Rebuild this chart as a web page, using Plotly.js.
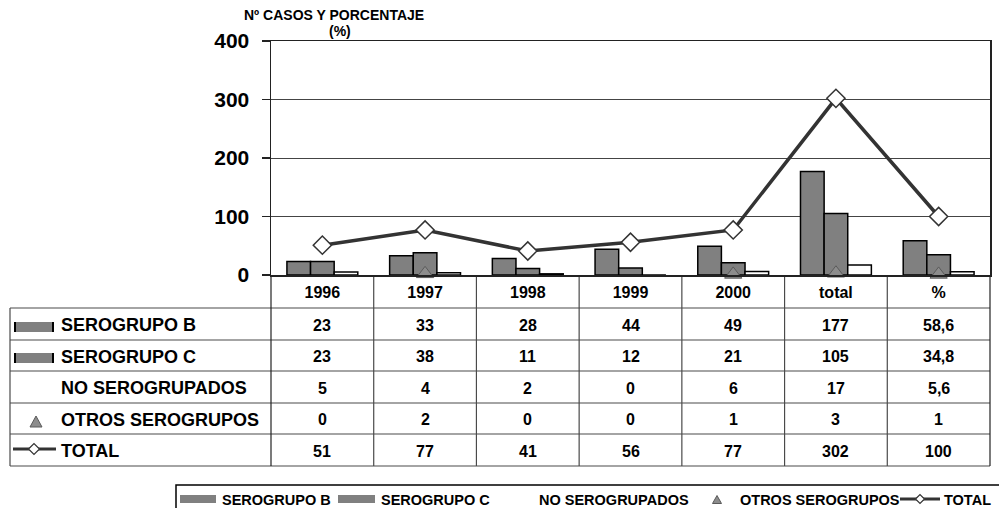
<!DOCTYPE html>
<html>
<head>
<meta charset="utf-8">
<script src="https://cdn.plot.ly/plotly-3.0.1.min.js"></script>
<style>html,body{margin:0;padding:0;background:#fff;}#chart{width:999px;height:508px;}</style>
</head>
<body>
<div id="chart"></div>
<script>
// ---- data ----
const categories = ['1996', '1997', '1998', '1999', '2000', 'total', '%'];
const seriesNames = ['SEROGRUPO B', 'SEROGRUPO C', 'NO SEROGRUPADOS', 'OTROS SEROGRUPOS', 'TOTAL'];
const serogrupoB = [23, 33, 28, 44, 49, 177, 58.6];
const serogrupoC = [23, 38, 11, 12, 21, 105, 34.8];
const noSerogrupados = [5, 4, 2, 0, 6, 17, 5.6];
const otrosSerogrupos = [0, 2, 0, 0, 1, 3, 1];
const totalCasos = [51, 77, 41, 56, 77, 302, 100];
const yTicks = [0, 100, 200, 300, 400];
const yTitleLines = ['Nº CASOS Y PORCENTAJE', '(%)'];

// ---- layout helpers ----
const W = 999, H = 508;
const M = {l: 271, r: 9, t: 41, b: 233};
const PW = W - M.l - M.r, PH = H - M.t - M.b;
const px = x => (x - M.l) / PW;
const py = y => (H - M.b - y) / PH;
const FONT = 'Arial, "Liberation Sans", sans-serif';
const GRAY = '#808080';
const DARK = '#333333';
const TABLE_LINE = '#4a4a4a';

const traces = [
  {type: 'bar', name: seriesNames[0], x: categories, y: serogrupoB,
   marker: {color: GRAY, line: {color: '#000', width: 1.5}}, hoverinfo: 'skip'},
  {type: 'bar', name: seriesNames[1], x: categories, y: serogrupoC,
   marker: {color: GRAY, line: {color: '#000', width: 1.5}}, hoverinfo: 'skip'},
  {type: 'bar', name: seriesNames[2], x: categories, y: noSerogrupados,
   marker: {color: '#fff', line: {color: '#000', width: 1.5}}, hoverinfo: 'skip'},
  {type: 'scatter', mode: 'markers', name: seriesNames[3], x: categories, y: otrosSerogrupos,
   cliponaxis: false,
   marker: {symbol: 'triangle-up', size: 15, color: '#8c8c8c',
            opacity: otrosSerogrupos.map(v => v === 0 ? 0 : 1),
            line: {color: '#5a5a5a', width: 1}}, hoverinfo: 'skip'},
  {type: 'scatter', mode: 'lines+markers', name: seriesNames[4], x: categories, y: totalCasos,
   cliponaxis: false,
   line: {color: DARK, width: 3.5},
   marker: {symbol: 'diamond', size: 14, color: '#fff', line: {color: DARK, width: 1.5}},
   hoverinfo: 'skip'}
];

// ---- table geometry (pixels) ----
const rowEdges = [308, 340, 371, 403, 434, 466];
const tableLeft = 10, tableRight = 990, headerTop = 275;
const shapes = [];
const annotations = [];
const line = (x0, y0, x1, y1, color, w) => shapes.push({type: 'line', xref: 'paper', yref: 'paper',
  x0: px(x0), y0: py(y0), x1: px(x1), y1: py(y1), line: {color: color, width: w}, layer: 'below'});

rowEdges.forEach(y => line(tableLeft, y, tableRight, y, TABLE_LINE, 1.2));
line(tableLeft, rowEdges[0], tableLeft, rowEdges[rowEdges.length - 1], TABLE_LINE, 1.2);
for (let i = 0; i <= categories.length; i++) {
  const x = M.l + PW * i / categories.length;
  line(x, headerTop, x, rowEdges[rowEdges.length - 1], i === 0 || i === categories.length ? '#222' : TABLE_LINE, 1.2);
}

// table rows
const rows = [serogrupoB, serogrupoC, noSerogrupados, otrosSerogrupos, totalCasos];
const fmt = v => String(v).replace('.', ',');
rows.forEach((vals, r) => {
  const yc = (rowEdges[r] + rowEdges[r + 1]) / 2 + 1;
  annotations.push({xref: 'paper', yref: 'paper', x: px(59), y: py(yc), xanchor: 'left', yanchor: 'middle',
    text: '<b>' + seriesNames[r] + '</b>', showarrow: false, font: {family: FONT, size: 18, color: '#000'}});
  vals.forEach((v, c) => {
    annotations.push({xref: 'x', yref: 'paper', x: c, y: py(yc), xanchor: 'center', yanchor: 'middle',
      text: '<b>' + fmt(v) + '</b>', showarrow: false, font: {family: FONT, size: 16, color: '#000'}});
  });
});

// row-label symbols
function barSymbol(x0, x1, y0, y1, edges) {
  shapes.push({type: 'rect', xref: 'paper', yref: 'paper', x0: px(x0), x1: px(x1), y0: py(y0), y1: py(y1),
    fillcolor: GRAY, line: {width: 0}});
  if (edges) {
    shapes.push({type: 'line', xref: 'paper', yref: 'paper', x0: px(x0), x1: px(x0), y0: py(y0), y1: py(y1), line: {color: '#000', width: 2}});
    shapes.push({type: 'line', xref: 'paper', yref: 'paper', x0: px(x1), x1: px(x1), y0: py(y0), y1: py(y1), line: {color: '#000', width: 2}});
  }
}
function triangle(cx, cy, w, h) {
  shapes.push({type: 'path', xref: 'paper', yref: 'paper',
    path: `M${px(cx - w / 2)},${py(cy + h / 2)} L${px(cx + w / 2)},${py(cy + h / 2)} L${px(cx)},${py(cy - h / 2)} Z`,
    fillcolor: '#8c8c8c', line: {color: '#5a5a5a', width: 1}});
}
function diamond(cx, cy, r) {
  shapes.push({type: 'path', xref: 'paper', yref: 'paper',
    path: `M${px(cx - r)},${py(cy)} L${px(cx)},${py(cy - r)} L${px(cx + r)},${py(cy)} L${px(cx)},${py(cy + r)} Z`,
    fillcolor: '#fff', line: {color: DARK, width: 1.2}});
}
function symLine(x0, x1, y) {
  shapes.push({type: 'line', xref: 'paper', yref: 'paper', x0: px(x0), x1: px(x1), y0: py(y), y1: py(y), line: {color: DARK, width: 3}});
}
barSymbol(15, 53, 322, 332, true);
barSymbol(15, 53, 353, 363, true);
triangle(36, 421.5, 12, 11);
symLine(13, 56, 449);
diamond(34, 449, 5.5);

// bottom legend box
shapes.push({type: 'rect', xref: 'paper', yref: 'paper', x0: px(176), x1: px(1010), y0: py(485), y1: py(520),
  fillcolor: 'rgba(0,0,0,0)', line: {color: '#000', width: 1.5}});
const legY = 499;
barSymbol(180, 216, 495, 503, false);
barSymbol(338, 375, 495, 503, false);
triangle(717, 499.5, 9, 8);
symLine(900, 940, legY);
diamond(920, legY, 4.5);
const legTextX = [220, 379, 537, 738, 942];
seriesNames.forEach((n, i) => annotations.push({xref: 'paper', yref: 'paper', x: px(legTextX[i]), y: py(legY + 0.5),
  xanchor: 'left', yanchor: 'middle', text: '<b>' + n + '</b>', showarrow: false,
  font: {family: FONT, size: 14.5, color: '#000'}}));

// y title (two lines, horizontal)
annotations.push({xref: 'paper', yref: 'paper', x: px(334), y: py(15.5), xanchor: 'center', yanchor: 'middle',
  text: '<b>' + yTitleLines[0] + '</b>', showarrow: false, font: {family: FONT, size: 14, color: '#000'}});
annotations.push({xref: 'paper', yref: 'paper', x: px(340), y: py(31), xanchor: 'center', yanchor: 'middle',
  text: '<b>' + yTitleLines[1] + '</b>', showarrow: false, font: {family: FONT, size: 14, color: '#000'}});

const layout = {
  width: W, height: H,
  margin: {l: M.l, r: M.r, t: M.t, b: M.b},
  paper_bgcolor: '#fff', plot_bgcolor: '#fff',
  showlegend: false,
  barmode: 'group', bargap: 0.31, bargroupgap: 0,
  font: {family: FONT, color: '#000'},
  xaxis: {type: 'category', autotypenumbers: 'strict', range: [-0.5, categories.length - 0.5],
    tickmode: 'array', tickvals: categories, ticktext: categories.map(c => '<b>' + c + '</b>'),
    showgrid: false, zeroline: false, showline: true, mirror: true, linecolor: '#222', linewidth: 1.5,
    ticks: '', ticklabelstandoff: 2,
    tickfont: {family: FONT, size: 16, color: '#000'}},
  yaxis: {range: [0, 400], tickvals: yTicks, ticktext: yTicks.map(v => '<b>' + v + '</b>'),
    showgrid: true, gridcolor: '#444', gridwidth: 1, zeroline: false,
    showline: true, mirror: true, linecolor: '#222', linewidth: 1.5,
    ticks: 'outside', ticklen: 8, tickcolor: '#222', tickwidth: 1.2, ticklabelstandoff: 8,
    tickfont: {family: FONT, size: 21, color: '#000'}},
  shapes: shapes,
  annotations: annotations
};

Plotly.newPlot('chart', traces, layout, {staticPlot: true, displayModeBar: false});
</script>
</body>
</html>
